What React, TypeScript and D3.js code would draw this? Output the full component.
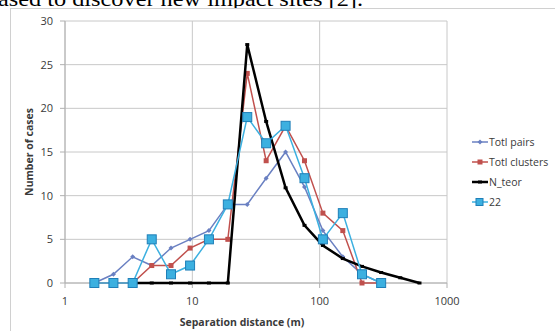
import * as d3 from 'd3';

// ─── Data ───────────────────────────────────────────────────

const DIST = [1.7, 2.4, 3.4, 4.8, 6.8, 9.6, 13.5, 19, 27, 38, 54, 76, 106, 152, 215, 304];
const TOTL_PAIRS = [0, 1, 3, 2, 4, 5, 6, 9, 9, 12, 15, 11, 6, 3, 1, 0];
const TOTL_CLUSTERS = [0, 0, 0, 2, 2, 4, 5, 5, 24, 14, 18, 14, 8, 6, 0, 0];
const S22 = [0, 0, 0, 5, 1, 2, 5, 9, 19, 16, 18, 12, 5, 8, 1, 0];

const TEOR_DIST = [3.4, 4.8, 6.8, 9.6, 13.5, 19, 27, 38, 54, 76, 106, 152, 215, 304, 430, 608];
const N_TEOR = [0, 0, 0, 0, 0, 0, 27.3, 18.5, 10.9, 6.6, 4.3, 2.8, 1.9, 1.2, 0.6, 0];

const Y_TICKS = [0, 5, 10, 15, 20, 25, 30];
const X_TICKS = [1, 10, 100, 1000];

const C_PAIRS = '#6a80c2';
const C_CLUST = '#c0504d';
const C_TEOR = '#000000';
const C_22 = '#3cb0e0';
const TXT = '#3a3a3a';
const FONT = '"Open Sans", "Noto Sans", sans-serif';

// ─── Component ──────────────────────────────────────────────

export default function App() {
  const W = 555, H = 331;
  const x = d3.scaleLog().domain([1, 1000]).range([65, 447]);
  const y = d3.scaleLinear().domain([0, 30]).range([283, 21]);

  const pts = (xs: number[], ys: number[]) => xs.map((d, i) => [x(d), y(ys[i])] as [number, number]);
  const line = d3.line();

  const pairs = pts(DIST, TOTL_PAIRS);
  const clust = pts(DIST, TOTL_CLUSTERS);
  const s22 = pts(DIST, S22);
  const teor = pts(TEOR_DIST, N_TEOR);

  const legend = [
    { name: 'Totl pairs', color: C_PAIRS, kind: 'diamond', y: 142 },
    { name: 'Totl clusters', color: C_CLUST, kind: 'square', y: 162 },
    { name: 'N_teor', color: C_TEOR, kind: 'dash', y: 182 },
    { name: '22', color: C_22, kind: 'big', y: 202 },
  ];

  const marker = (kind: string, color: string, cx: number, cy: number, key?: any) => {
    if (kind === 'diamond')
      return <path key={key} d={`M${cx},${cy - 2.5}L${cx + 2.5},${cy}L${cx},${cy + 2.5}L${cx - 2.5},${cy}Z`} fill={color} />;
    if (kind === 'square')
      return <rect key={key} x={cx - 2.5} y={cy - 2.5} width={5} height={5} fill={color} />;
    if (kind === 'dash')
      return <rect key={key} x={cx - 2} y={cy - 1.5} width={4} height={3} fill={color} />;
    return <rect key={key} x={cx - 4.5} y={cy - 4.5} width={9} height={9} fill={color} stroke="#1f7fb8" strokeWidth={1} />;
  };

  return (
    <svg width={W} height={H} style={{ position: 'absolute', left: 0, top: 0, background: '#fff' }}>
      <text x={-2} y={6} fontFamily='"Liberation Serif", "Times New Roman", serif' fontSize={22}
        textLength={365} lengthAdjust="spacingAndGlyphs" fill="#000">
        ased to discover new impact sites [2].
      </text>
      <rect x={10.5} y={8.5} width={600} height={400} fill="#fff" stroke="#d0d0d0" />

      {/* Grid */}
      {Y_TICKS.map((t) => (
        <line key={'gy' + t} x1={x(1)} x2={x(1000)} y1={y(t)} y2={y(t)} stroke="#c8c8c8" />
      ))}
      {X_TICKS.map((t) => (
        <line key={'gx' + t} x1={x(t)} x2={x(t)} y1={y(30)} y2={y(0)} stroke="#c8c8c8" />
      ))}
      {Y_TICKS.map((t) => (
        <line key={'ty' + t} x1={x(1) - 5} x2={x(1)} y1={y(t)} y2={y(t)} stroke="#b0b0b0" />
      ))}
      {X_TICKS.map((t) => (
        <line key={'tx' + t} x1={x(t)} x2={x(t)} y1={y(0)} y2={y(0) + 5} stroke="#b0b0b0" />
      ))}
      <line x1={x(1)} x2={x(1)} y1={y(30)} y2={y(0)} stroke="#b0b0b0" />
      <line x1={x(1)} x2={x(1000)} y1={y(0)} y2={y(0)} stroke="#b0b0b0" />

      {/* Tick labels */}
      {Y_TICKS.map((t) => (
        <text key={'ly' + t} x={53} y={y(t)} dy="0.35em" textAnchor="end" fontFamily={FONT} fontSize={11} fill={TXT}>
          {t}
        </text>
      ))}
      {X_TICKS.map((t) => (
        <text key={'lx' + t} x={x(t)} y={301} dy="0.35em" textAnchor="middle" fontFamily={FONT} fontSize={11} fill={TXT}>
          {t}
        </text>
      ))}
      <text x={242} y={322} dy="0.35em" textAnchor="middle" fontFamily={FONT} fontSize={10.5} fontWeight="bold" fill={TXT}>
        Separation distance (m)
      </text>
      <text transform={`translate(29,${(y(0) + y(30)) / 2}) rotate(-90)`} dy="0.35em" textAnchor="middle"
        fontFamily={FONT} fontSize={10.5} fontWeight="bold" fill={TXT}>
        Number of cases
      </text>

      {/* Series */}
      <path d={line(pairs) || ''} fill="none" stroke={C_PAIRS} strokeWidth={1.5} />
      {pairs.map((p, i) => marker('diamond', C_PAIRS, p[0], p[1], 'mp' + i))}
      <path d={line(clust) || ''} fill="none" stroke={C_CLUST} strokeWidth={1.5} />
      {clust.map((p, i) => marker('square', C_CLUST, p[0], p[1], 'mc' + i))}
      <path d={line(teor) || ''} fill="none" stroke={C_TEOR} strokeWidth={2.5} />
      {teor.map((p, i) => marker('dash', C_TEOR, p[0], p[1], 'mt' + i))}
      <path d={line(s22) || ''} fill="none" stroke={C_22} strokeWidth={1.5} />
      {s22.map((p, i) => marker('big', C_22, p[0], p[1], 'm2' + i))}

      {/* Legend */}
      {legend.map((l) => (
        <g key={l.name}>
          <line x1={472} x2={488} y1={l.y} y2={l.y} stroke={l.color} strokeWidth={l.kind === 'dash' ? 2.5 : 1.5} />
          {l.kind === 'big'
            ? <rect x={476} y={l.y - 3.5} width={7} height={7} fill={C_22} stroke="#1f7fb8" />
            : marker(l.kind, l.color, 480, l.y)}
          <text x={489} y={l.y} dy="0.35em" fontFamily={FONT} fontSize={10.5} fill={TXT}>{l.name}</text>
        </g>
      ))}
    </svg>
  );
}
